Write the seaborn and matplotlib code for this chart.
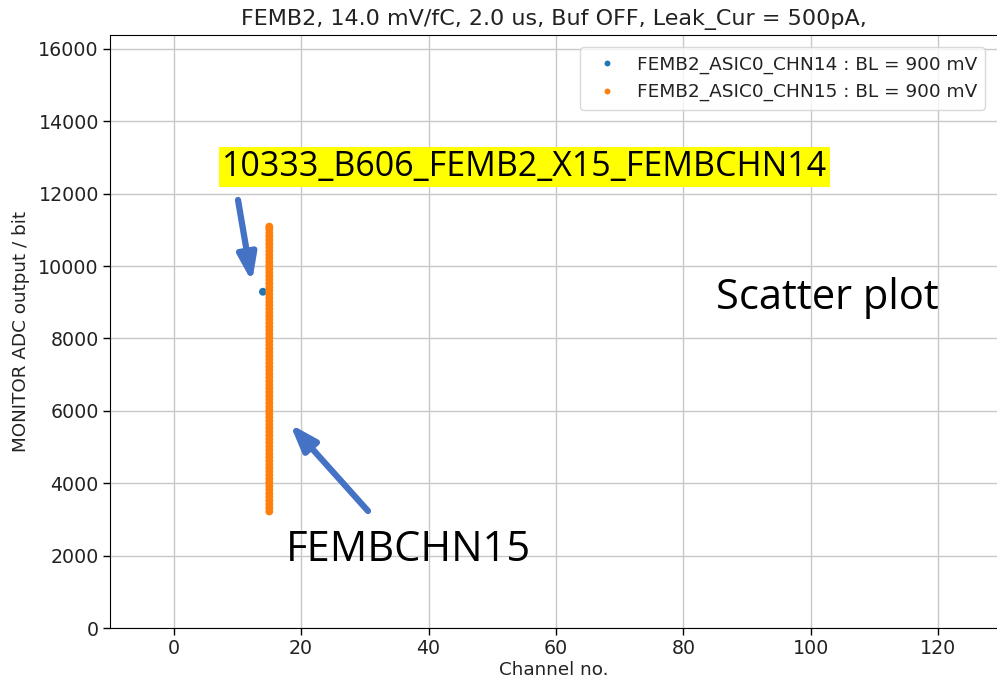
import matplotlib
matplotlib.use("Agg")
import matplotlib.pyplot as plt
import seaborn as sns
import pandas as pd

# ---- data ----
chn14_x = [14]
chn14_y = [9290]

chn15_y = [3220, 3320, 3420, 3520, 3620, 3720, 3820, 3920, 4020, 4120,
           4220, 4320, 4420, 4520, 4620, 4720, 4820, 4920, 5020, 5120,
           5220, 5320, 5420, 5520, 5620, 5720, 5820, 5920, 6020, 6120,
           6220, 6320, 6420, 6520, 6620, 6720, 6820, 6920, 7020, 7120,
           7220, 7320, 7420, 7520, 7620, 7720, 7820, 7920, 8020, 8120,
           8220, 8320, 8420, 8520, 8620, 8720, 8820, 8920, 9020, 9120,
           9220, 9320, 9420, 9520, 9620, 9720, 9820, 9920, 10020, 10120,
           10220, 10320, 10420, 10520, 10620, 10720, 10820, 10920, 11020, 11090]
chn15_x = [15] * len(chn15_y)

labels = ["FEMB2_ASIC0_CHN14 : BL = 900 mV", "FEMB2_ASIC0_CHN15 : BL = 900 mV"]
title = "FEMB2, 14.0 mV/fC, 2.0 us, Buf OFF, Leak_Cur = 500pA,"

df = pd.DataFrame({
    "chn": chn14_x + chn15_x,
    "adc": chn14_y + chn15_y,
    "series": [labels[0]] * len(chn14_y) + [labels[1]] * len(chn15_y),
})

sns.set_style("ticks", {"axes.grid": True, "grid.color": "#c8c8c8",
                        "axes.edgecolor": "black", "xtick.color": "black",
                        "ytick.color": "black", "text.color": "#222222",
                        "axes.labelcolor": "#222222"})
plt.rcParams["font.family"] = ["DejaVu Sans"]

fig = plt.figure(figsize=(9.97, 6.78), dpi=100)
ax = fig.add_axes([110 / 997, 1 - 628 / 678, 1 - 110 / 997, (628 - 35) / 678])

sns.scatterplot(data=df, x="chn", y="adc", hue="series",
                palette=["#1f77b4", "#ff7f0e"], s=32, linewidth=0, ax=ax)

ax.set_xlim(-10, 129.2)
ax.set_ylim(0, 16384)
ax.set_xticks([0, 20, 40, 60, 80, 100, 120])
ax.set_yticks(range(0, 16001, 2000))
ax.tick_params(labelsize=13.7, length=5, width=1, pad=3, labelcolor="#222222")
ax.set_xlabel("Channel no.", fontsize=13.2, labelpad=2)
ax.set_ylabel("MONITOR ADC output / bit", fontsize=13.2, labelpad=6)
ax.set_title(title, fontsize=16, pad=7)
ax.grid(True, color="#c8c8c8", linewidth=1)
ax.spines["right"].set_visible(False)

leg = ax.legend(loc="upper right", fontsize=13.3, frameon=True,
                markerscale=0.75, handletextpad=0.6, borderpad=0.45,
                bbox_to_anchor=(0.997, 0.995))
leg.get_frame().set_edgecolor("#d0d0d0")

# ---- overlaid annotations (figure pixels, origin bottom-left) ----
H = 678
fig.text(222 / 997, 1 - 167 / H, "10333_B606_FEMB2_X15_FEMBCHN14",
         fontsize=24.5, family="Open Sans", color="black",
         va="center", ha="left",
         bbox=dict(facecolor="#ffff00", edgecolor="none", pad=2))
fig.text(716 / 997, 1 - 298 / H, "Scatter plot", fontsize=30,
         family="Open Sans", color="black", va="center", ha="left")
fig.text(286 / 997, 1 - 550 / H, "FEMBCHN15", fontsize=30,
         family="Open Sans", color="black", va="center", ha="left")

arrow_kw = dict(arrowstyle="-|>,head_length=0.8,head_width=0.28",
                mutation_scale=20, color="#4472c4", lw=4.5,
                shrinkA=0, shrinkB=0)
ax.annotate("", xy=(252, H - 282), xytext=(238, H - 200),
            xycoords="figure pixels", textcoords="figure pixels",
            arrowprops=arrow_kw)
ax.annotate("", xy=(290, H - 424), xytext=(368, H - 511),
            xycoords="figure pixels", textcoords="figure pixels",
            arrowprops=arrow_kw)

fig.savefig("out.png", dpi=100)
